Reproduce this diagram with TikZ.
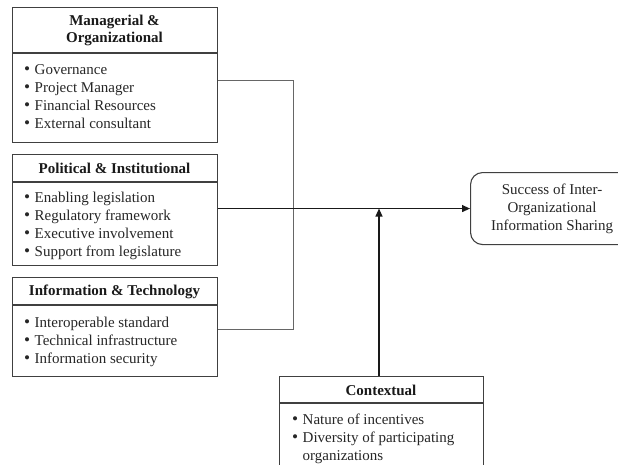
\documentclass[tikz,border=0pt]{standalone}
\usepackage{fontspec}
\setmainfont{Liberation Serif}
\usetikzlibrary{arrows.meta}
\newcommand{\itm}{\makebox[10.5pt][l]{\raisebox{0.3pt}{\scalebox{1.15}{\textbullet}}}}
\newcommand{\itmgap}{\hspace*{10.5pt}}
\begin{document}
\begin{tikzpicture}[x=1pt,y=-1pt,
  frame/.style={draw=black!75,line width=1.1pt,inner sep=0,anchor=north west},
  sep/.style={draw=black!75,line width=1.1pt},
  head/.style={font=\fontsize{15}{16.5}\selectfont\bfseries,align=center,text=black!90,inner sep=0},
  items/.style={font=\fontsize{15}{18}\selectfont,align=left,anchor=north west,inner sep=0,text=black!85},
  link/.style={draw=black!60,line width=0.9pt},
  main/.style={draw=black!90,line width=1.2pt},
  tip/.style={-{Triangle[length=8pt,width=7pt]}},
  goal/.style={draw=black!75,line width=1.1pt,rounded corners=12pt,anchor=north west,
    font=\fontsize{15}{18}\selectfont,align=center,text=black!85,inner sep=0}
]
\useasboundingbox (0,0) rectangle (618,464);
\clip (0,0) rectangle (618,464);

% Managerial & Organizational
\node[frame,minimum width=205pt,minimum height=135pt] (m) at (12,7) {};
\draw[sep] (m.west |- 0,53) -- (m.east |- 0,53);
\node[head] (mh) at (114.5,30.5) {Managerial \&\\Organizational};
\node[items] (ml) at (24,64.5) {\itm Governance\\\itm Project Manager\\\itm Financial Resources\\\itm External consultant};

% Political & Institutional
\node[frame,minimum width=205pt,minimum height=111pt] (p) at (12,154) {};
\draw[sep] (p.west |- 0,182) -- (p.east |- 0,182);
\node[head] (ph) at (114.5,168.5) {Political \& Institutional};
\node[items] (pl) at (24,192) {\itm Enabling legislation\\\itm Regulatory framework\\\itm Executive involvement\\\itm Support from legislature};

% Information & Technology
\node[frame,minimum width=205pt,minimum height=99pt] (i) at (12,277) {};
\draw[sep] (i.west |- 0,305) -- (i.east |- 0,305);
\node[head] (ih) at (114.5,291.5) {Information \& Technology};
\node[items] (il) at (24,317) {\itm Interoperable standard\\\itm Technical infrastructure\\\itm Information security};

% Contextual
\node[frame,minimum width=204pt,minimum height=100pt] (c) at (279,376) {};
\draw[sep] (c.west |- 0,403) -- (c.east |- 0,403);
\node[head] (ch) at (381,390) {Contextual};
\node[items] (cl) at (292,414) {\itm Nature of incentives\\\itm Diversity of participating\\\itmgap organizations};

% Outcome
\node[goal,minimum width=163pt,minimum height=72pt] (t) at (470,172) {Success of Inter-\\Organizational\\Information Sharing};

% Connectors
\coordinate (j1) at (293,80);
\coordinate (j3) at (293,329);
\draw[link] (m.east |- j1) -- (j1) -- (j3) -- (i.east |- j3);
\draw[main,tip] (p.east |- t.west) -- (t.west);
\draw[main,tip] (c.north -| 379,0) -- (379,0 |- t.west);
\end{tikzpicture}
\end{document}
